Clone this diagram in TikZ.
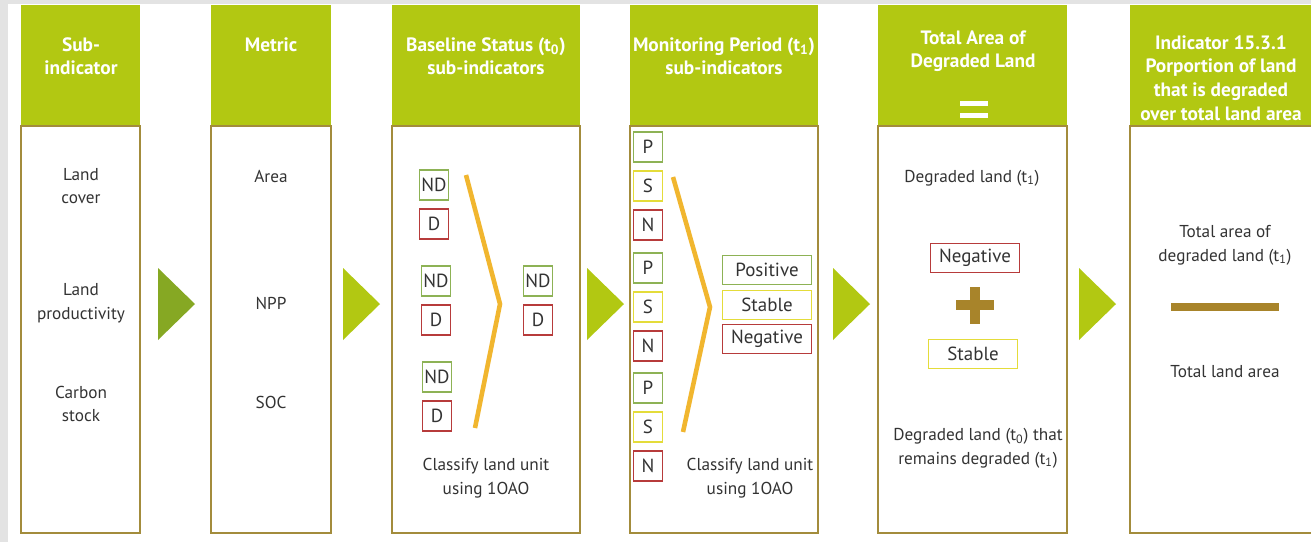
\documentclass[tikz,border=0pt]{standalone}
\usepackage{fontspec}
\setmainfont{PT Sans}

\definecolor{lime}{HTML}{B2C812}
\definecolor{olive}{HTML}{A38C3C}
\definecolor{leaf}{HTML}{86A823}
\definecolor{tickgreen}{HTML}{8DB255}
\definecolor{tickyellow}{HTML}{E4DC3A}
\definecolor{tickred}{HTML}{B73B3B}
\definecolor{chevron}{HTML}{F1B62F}
\definecolor{barbrown}{HTML}{A8842A}
\definecolor{ink}{HTML}{333333}

\tikzset{
  head/.style={text=white, font=\bfseries\fontsize{11}{13}\selectfont, align=center},
  txt/.style={text=ink, font=\fontsize{9.8}{13.5}\selectfont, align=center},
  tag/.style={draw, line width=0.9pt, fill=white, text=ink, inner sep=0pt,
    minimum width=0.58cm, minimum height=0.6cm, font=\fontsize{10.8}{12}\selectfont},
  tagwide/.style={tag, minimum width=1.78cm, minimum height=0.58cm},
  good/.style={draw=tickgreen},
  flat/.style={draw=tickyellow},
  bad/.style={draw=tickred},
  chev/.style={chevron, line width=2.6pt},
}

\begin{document}
\begin{tikzpicture}[x=0.02cm, y=-0.02cm]
\useasboundingbox (0,0) rectangle (1311,542);
\clip (0,0) rectangle (1311,542);
%background
\fill[gray!22] (0,0) rectangle (1311,542);
\fill[white] (8,4) rectangle (1311,542);

%columns
\foreach \l/\r [count=\i] in {21/140, 211/331, 392/580, 630/818, 878/1067, 1130/1315}{
  \fill[lime] (\l,5) rectangle (\r,126);
  \draw[olive, line width=1.1pt, fill=white] (\l,126) rectangle (\r,533);
  \coordinate (col\i) at ({(\l+\r)/2},126);
}

%arrows between columns
\fill[leaf] (158,268) -- (195,304) -- (158,340) -- cycle;
\foreach \a in {343,587,833,1079}
  \fill[lime] (\a,268) -- (\a+37,304) -- (\a,340) -- cycle;

%headers
\node[head] (h1) at (81,56) {Sub-\\indicator};
\node[head] (h2) at (271,45) {Metric};
\node[head] (h3) at (486,56) {Baseline Status (t\textsubscript{0})\\sub-indicators};
\node[head] (h4) at (724,56) {Monitoring Period (t\textsubscript{1})\\sub-indicators};
\node[head] (h5) at (973,51) {Total Area of\\Degraded Land};
\fill[white] (960,101) rectangle (988,106);
\fill[white] (960,113) rectangle (988,118);
\node[head, font=\bfseries\fontsize{11}{13.4}\selectfont] (h6) at (1221,78) {Indicator 15.3.1\\Porportion of land\\that is degraded\\over total land area};

%sub-indicators
\node[txt] (lc) at (81,186) {Land\\cover};
\node[txt] (lp) at (81,303) {Land\\productivity};
\node[txt] (cs) at (81,404) {Carbon\\stock};

%metrics
\node[txt] (area) at (271,176) {Area};
\node[txt] (npp) at (271,303) {NPP};
\node[txt] (soc) at (271,402) {SOC};

%baseline
\node[tag, good] (nda) at (434,185) {ND};
\node[tag, bad] (da) at (434,224) {D};
\node[tag, good] (ndb) at (436,281) {ND};
\node[tag, bad] (db) at (436,320) {D};
\node[tag, good] (ndc) at (437,377) {ND};
\node[tag, bad] (dc) at (437,416) {D};
\draw[chev] (466,175) -- (500,304) -- (475,428);
\node[tag, good] (ndr) at (538,281) {ND};
\node[tag, bad] (dr) at (538,320) {D};
\node[txt] (cls0) at (486,478) {Classify land unit\\using 1OAO};

%monitoring
\foreach \y [count=\k] in {147,268,388}{
  \node[tag, good] (p\k) at (648,\y) {P};
  \node[tag, flat] (s\k) at (648,\y+39) {S};
  \node[tag, bad] (n\k) at (648,\y+78) {N};
}
\draw[chev] (673,177) -- (710,307) -- (683,432);
\node[tagwide, good] (pos) at (767,270) {Positive};
\node[tagwide, flat] (stb) at (767,305) {Stable};
\node[tagwide, bad] (neg) at (767,339) {Negative};
\node[txt] (cls1) at (750,478) {Classify land unit\\using 1OAO};

%total area
\node[txt] (dl1) at (972,178) {Degraded land (t\textsubscript{1})};
\node[tagwide, bad] (negsum) at (975,258) {Negative};
\fill[barbrown] (956,300) rectangle (994,310);
\fill[barbrown] (970,287) rectangle (980,324);
\node[tagwide, flat] (stbsum) at (973,354) {Stable};
\node[txt] (dl0) at (978,448) {Degraded land (t\textsubscript{0}) that\\remains degraded (t\textsubscript{1})};

%indicator
\node[txt] (tad) at (1225,245) {Total area of\\degraded land (t\textsubscript{1})};
\fill[barbrown] (1171,303) rectangle (1279,311);
\node[txt] (tla) at (1225,372) {Total land area};
\end{tikzpicture}
\end{document}
